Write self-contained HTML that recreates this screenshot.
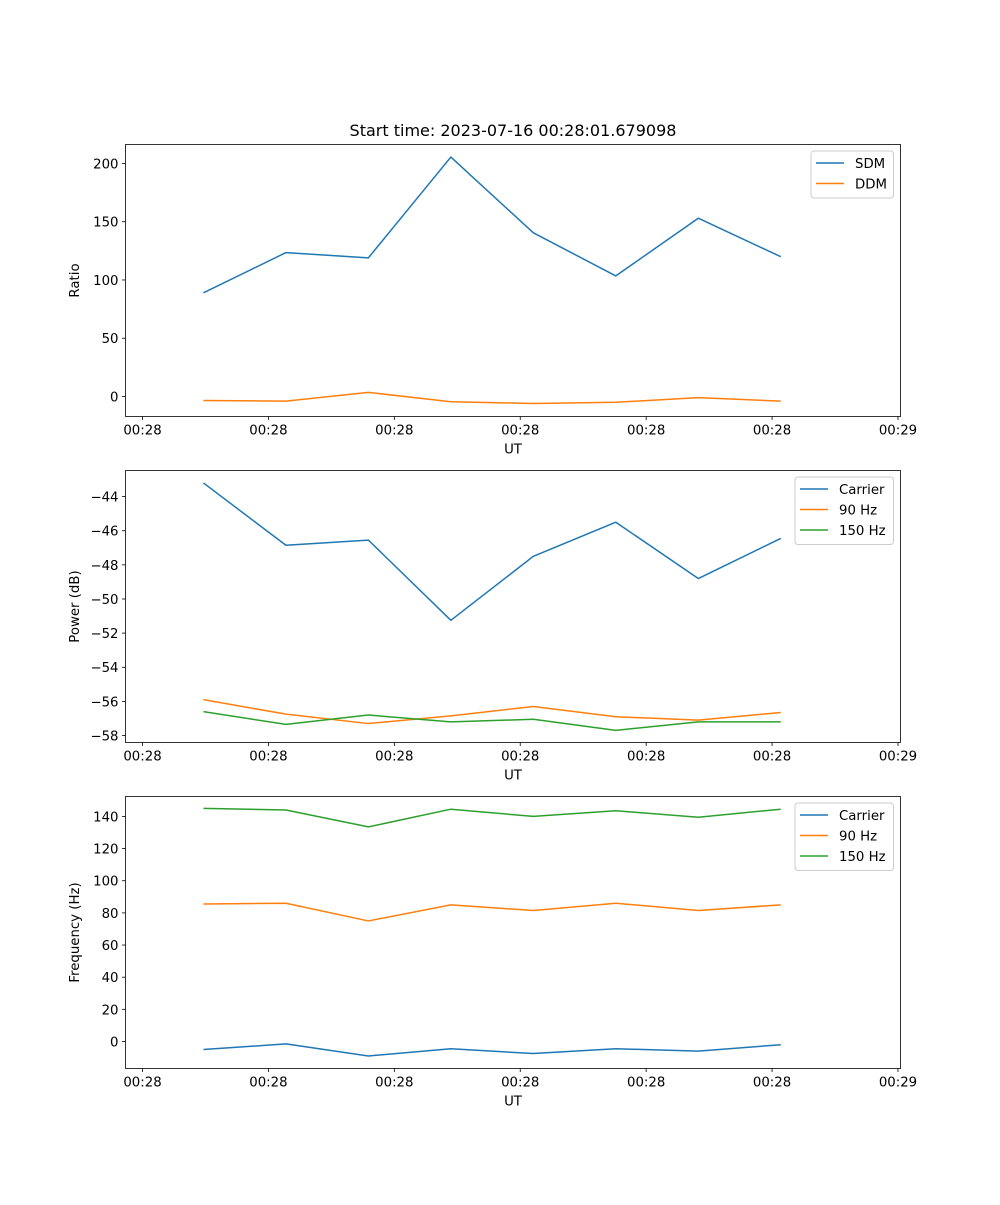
<!DOCTYPE html>
<html><head><meta charset="utf-8"><style>
html,body{margin:0;padding:0;background:#fff;}
svg text{font-family:"DejaVu Sans","Liberation Sans",sans-serif;font-size:13.3px;fill:#000;}
</style></head><body>
<svg id="fig" width="1000" height="1200" xmlns="http://www.w3.org/2000/svg"></svg>
<script>
const times = [4.84, 11.39, 17.94, 24.49, 31.04, 37.59, 44.14, 50.69];
const xTickValues = [0, 10, 20, 30, 40, 50, 60];
const xTickLabels = ["00:28","00:28","00:28","00:28","00:28","00:28","00:29"];
const sdm = [89, 123.5, 119, 205.5, 140.5, 103.5, 153, 120];
const ddm = [-3.5, -4, 3.5, -4.5, -6, -5, -1, -4];
const powCarrier = [-43.2, -46.85, -46.55, -51.25, -47.5, -45.5, -48.8, -46.45];
const pow90 = [-55.9, -56.75, -57.3, -56.85, -56.3, -56.9, -57.1, -56.65];
const pow150 = [-56.6, -57.35, -56.8, -57.2, -57.05, -57.7, -57.2, -57.2];
const freqCarrier = [-5, -1.5, -9, -4.5, -7.5, -4.5, -6, -2];
const freq90 = [85.5, 86, 75, 85, 81.5, 86, 81.5, 85];
const freq150 = [145, 144, 133.5, 144.5, 140, 143.5, 139.5, 144.5];
const ratioTicks = [0, 50, 100, 150, 200];
const powerTicks = [-58, -56, -54, -52, -50, -48, -46, -44];
const freqTicks = [0, 20, 40, 60, 80, 100, 120, 140];

const NS = "http://www.w3.org/2000/svg";
const fig = document.getElementById("fig");
const C = ["#1f77b4", "#ff7f0e", "#2ca02c"];
function mk(tag, attrs, parent) {
  const e = document.createElementNS(NS, tag);
  for (const k in attrs) e.setAttribute(k, attrs[k]);
  (parent || fig).appendChild(e);
  return e;
}
const L = 125.5, R = 900.5, xMin = -1.35, xMax = 60.2;
function xs(t) { return L + (t - xMin) / (xMax - xMin) * (R - L); }

function panel(name, top, bottom, yMin, yMax, yTicks, ylabel, series, legend) {
  const g = mk("g", {});
  
  
  const ys = v => bottom - (v - yMin) / (yMax - yMin) * (bottom - top);
  series.forEach((s, i) => {
    const p = mk("polyline", {points: s.v.map((v, j) => xs(times[j]) + "," + ys(v)).join(" "), fill: "none", stroke: s.c, "stroke-width": 1.5, "stroke-linejoin": "round"}, g);
    
    
  });
  const fr = mk("rect", {x: L, y: top, width: R - L, height: bottom - top, fill: "none", stroke: "#000", "stroke-width": 0.8}, g);
  
  
  xTickValues.forEach((t, i) => {
    const x = xs(t);
    mk("line", {x1: x, x2: x, y1: bottom, y2: bottom + 3.5, stroke: "#000", "stroke-width": 0.8}, g);
    const tx = mk("text", {x: x, y: bottom + 18, "text-anchor": "middle"}, g);
    tx.textContent = xTickLabels[i];
    
    
  });
  yTicks.forEach(v => {
    const y = ys(v);
    mk("line", {x1: L - 3.5, x2: L, y1: y, y2: y, stroke: "#000", "stroke-width": 0.8}, g);
    const tx = mk("text", {x: L - 7, y: y + 5, "text-anchor": "end"}, g);
    tx.textContent = String(v).replace("-", "\u2212");
    
    
  });
  const xl = mk("text", {x: (L + R) / 2, y: bottom + 37, "text-anchor": "middle"}, g);
  xl.textContent = "UT";
  
  
  const yl = mk("text", {x: 0, y: 0, "text-anchor": "middle", transform: "translate(79," + ((top + bottom) / 2) + ") rotate(-90)"}, g);
  yl.textContent = ylabel;
  
  
  const lg = mk("g", {}, g);
  
  
  const h = 6 + series.length * 20.5;
  mk("rect", {x: legend.x, y: top + 6.5, width: R - 7 - legend.x, height: h, rx: 3, fill: "#fff", "fill-opacity": 0.8, stroke: "#ccc", "stroke-width": 1}, lg);
  series.forEach((s, i) => {
    const yy = top + 18.5 + i * 20.5;
    mk("line", {x1: legend.x + 5, x2: legend.x + 33, y1: yy, y2: yy, stroke: s.c, "stroke-width": 1.5}, lg);
    const tx = mk("text", {x: legend.x + 44, y: yy + 5}, lg);
    tx.textContent = s.n;
    
    
  });
}

const title = mk("text", {x: (L + R) / 2, y: 136, "text-anchor": "middle", style: "font-size:16px"});
title.textContent = "Start time: 2023-07-16 00:28:01.679098";



panel("ratio-panel", 144.5, 416.5, -17.2, 216.3, ratioTicks, "Ratio",
  [{n: "SDM", v: sdm, c: C[0]}, {n: "DDM", v: ddm, c: C[1]}], {x: 811});
panel("power-panel", 470.5, 742.5, -58.41, -42.47, powerTicks, "Power (dB)",
  [{n: "Carrier", v: powCarrier, c: C[0]}, {n: "90 Hz", v: pow90, c: C[1]}, {n: "150 Hz", v: pow150, c: C[2]}], {x: 795});
panel("frequency-panel", 796.5, 1068.5, -16.8, 152.4, freqTicks, "Frequency (Hz)",
  [{n: "Carrier", v: freqCarrier, c: C[0]}, {n: "90 Hz", v: freq90, c: C[1]}, {n: "150 Hz", v: freq150, c: C[2]}], {x: 795});
</script>
</body></html>
